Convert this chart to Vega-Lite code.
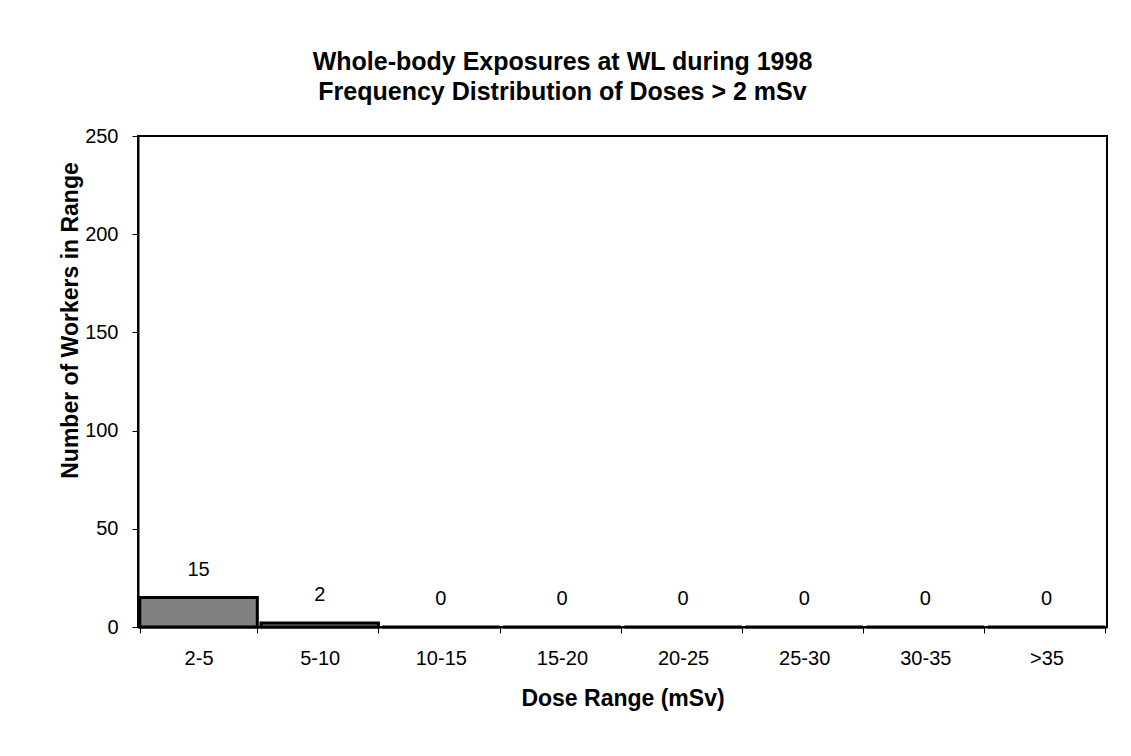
{
  "$schema": "https://vega.github.io/schema/vega-lite/v6.json",
  "autosize": {"type": "none"},
  "width": 969,
  "height": 491,
  "padding": {"left": 138, "top": 136, "right": 24, "bottom": 129},
  "background": "white",
  "config": {
    "font": "Liberation Sans",
    "view": {"stroke": "black", "strokeWidth": 2}
  },
  "title": {
    "text": ["Whole-body Exposures at WL during 1998", "Frequency Distribution of Doses > 2 mSv"],
    "fontSize": 25,
    "fontWeight": "bold",
    "color": "black",
    "lineHeight": 30,
    "anchor": "middle",
    "dx": -60,
    "offset": 21
  },
  "data": {
    "values": [
      {"range": "2-5", "workers": 15},
      {"range": "5-10", "workers": 2},
      {"range": "10-15", "workers": 0},
      {"range": "15-20", "workers": 0},
      {"range": "20-25", "workers": 0},
      {"range": "25-30", "workers": 0},
      {"range": "30-35", "workers": 0},
      {"range": ">35", "workers": 0}
    ]
  },
  "encoding": {
    "x": {
      "field": "range",
      "type": "nominal",
      "sort": null,
      "scale": {"paddingInner": 0.03, "paddingOuter": 0.015},
      "axis": {
        "title": "Dose Range (mSv)",
        "titleFontSize": 23,
        "titleFontWeight": "bold",
        "titleColor": "black",
        "titlePadding": 19,
        "labelAngle": 0,
        "labelFontSize": 20,
        "labelColor": "black",
        "labelPadding": 15,
        "tickBand": "extent",
        "tickSize": 6,
        "tickColor": "black",
        "domainColor": "black",
        "domainWidth": 2
      }
    },
    "y": {
      "field": "workers",
      "type": "quantitative",
      "scale": {"domain": [0, 250]},
      "axis": {
        "title": "Number of Workers in Range",
        "titleFontSize": 23,
        "titleFontWeight": "bold",
        "titleColor": "black",
        "titleAngle": -90,
        "titleBaseline": "middle",
        "titleAlign": "center",
        "titleX": -68,
        "titleY": 184,
        "values": [0, 50, 100, 150, 200, 250],
        "grid": false,
        "labelFontSize": 20,
        "labelColor": "black",
        "labelPadding": 14,
        "tickSize": 6,
        "tickColor": "black",
        "domainColor": "black",
        "domainWidth": 2
      }
    }
  },
  "layer": [
    {
      "mark": {"type": "bar", "color": "#808080", "stroke": "black", "strokeWidth": 3}
    },
    {
      "mark": {"type": "text", "baseline": "bottom", "dy": -18, "fontSize": 20, "color": "black"},
      "encoding": {"text": {"field": "workers", "type": "quantitative"}}
    }
  ]
}
